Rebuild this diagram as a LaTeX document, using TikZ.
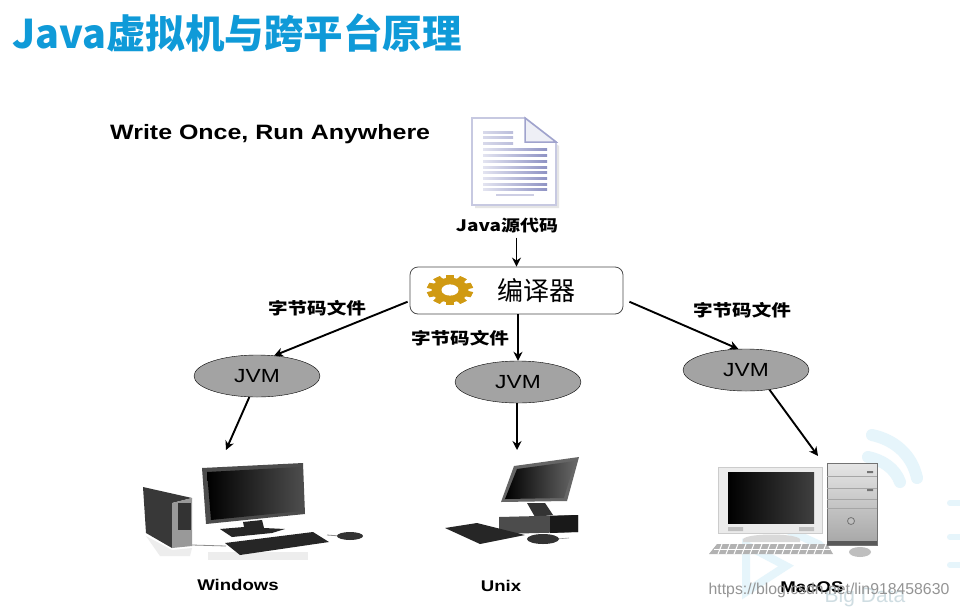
\documentclass[tikz,border=0pt]{standalone}
\usepackage{fontspec}
\usepackage{xcolor}
\setmainfont{Liberation Sans}
\newfontfamily\cjk{Noto Sans CJK SC}
\newfontfamily\cjkwide[FakeStretch=1.2]{Noto Sans CJK SC}
\newfontfamily\widefont[FakeStretch=1.2]{Liberation Sans}
\usetikzlibrary{arrows.meta,shapes.geometric}
\definecolor{titleblue}{HTML}{0F9AD8}
\definecolor{jvmgrey}{HTML}{A3A3A3}
\definecolor{gearyellow}{HTML}{D09A12}
\definecolor{paperblue}{HTML}{8F93C4}
\definecolor{logoblue}{HTML}{E6F5FB}
\tikzset{
    flow/.style={draw=black,line width=1.9pt,-{Stealth[length=9pt,width=9pt]}},
    jvm/.style={draw=black,fill=jvmgrey,ellipse,minimum width=126pt,minimum height=42pt,inner sep=0pt,font=\widefont\fontsize{19}{19}\selectfont},
    caption/.style={inner sep=0pt,font=\widefont\bfseries\fontsize{15.5}{15.5}\selectfont},
    filetag/.style={inner sep=0pt,font=\cjkwide\bfseries\fontsize{16.3}{16.3}\selectfont},
    logo/.style={draw=logoblue,line width=12pt,line cap=round},
}
\begin{document}
\begin{tikzpicture}[x=1pt,y=-1pt]
    \useasboundingbox (0,0) rectangle (960,608);
    \fill[white] (0,0) rectangle (960,608);

    \draw[logo] (872,435) .. controls (895,440) and (912,455) .. (917,478);
    \draw[logo] (868,457) .. controls (882,460) and (895,468) .. (900,482);
    \draw[logo,line width=8pt] (746,545) -- (746,592) -- (786,566) -- cycle;
    \draw[logo,line width=8pt] (770,522) -- (820,545);
    \draw[logo,line width=6pt] (950,503) -- (960,503) (950,537) -- (960,537) (950,565) -- (960,565);
    \node[inner sep=0pt,text=logoblue!90!black,font=\fontsize{21}{21}\selectfont] (bigdata) at (865,597) {Big Data};

    \node[anchor=west,inner sep=0pt,text=titleblue,font=\cjk\bfseries\fontsize{39.5}{39.5}\selectfont] (title) at (12,33) {Java虚拟机与跨平台原理};
    \node[anchor=west,inner sep=0pt,font=\widefont\bfseries\fontsize{20.8}{20.8}\selectfont] (slogan) at (110,134) {Write Once, Run Anywhere};

    \fill[black!10] (475,121) -- (527,121) -- (559,146) -- (559,208) -- (475,208) -- cycle;
    \draw[draw=paperblue!50,fill=white,line width=1.8pt] (472,118) -- (525,118) -- (556,142) -- (556,205) -- (472,205) -- cycle;
    \draw[draw=paperblue!85,fill=paperblue!15,line width=1.5pt] (525,118) -- (525,142) -- (556,142) -- cycle;
    \foreach \y in {132,137,143}
        \shade[left color=paperblue!35,right color=paperblue!60] (483,\y-1) rectangle (513,\y+1);
    \foreach \y in {149,155,161,167,172,178,184,189}
        \shade[left color=paperblue!25,right color=paperblue] (483,\y-1) rectangle (547,\y+1);
    \fill[paperblue!45] (496,194) rectangle (534,196);
    \node[inner sep=0pt,font=\cjkwide\bfseries\fontsize{15.8}{15.8}\selectfont] (src) at (507,226) {Java源代码};

    \node[draw=black!70,fill=white,rounded corners=8pt,line width=0.8pt,minimum width=213pt,minimum height=47pt,inner sep=0pt] (compiler) at (516.5,290.5) {};
    \begin{scope}[shift={(450,290)},yscale=.66]
        \foreach \a in {0,36,...,324}
            \fill[gearyellow,rotate=\a] (-4,-23) rectangle (4,23);
        \fill[gearyellow] (0,0) circle (18.5);
        \fill[white] (0,0) circle (8.5);
    \end{scope}
    \node[inner sep=0pt,font=\cjk\fontsize{26}{26}\selectfont] (compilername) at (536.5,291) {编译器};

    \node[jvm] (jvmwin) at (257,376) {JVM};
    \node[jvm] (jvmunix) at (518,382) {JVM};
    \node[jvm] (jvmmac) at (746,370) {JVM};

    \node[filetag] (tagwin) at (317,308) {字节码文件};
    \node[filetag] (tagunix) at (460,338) {字节码文件};
    \node[filetag] (tagmac) at (742,310) {字节码文件};

    \fill[black!7] (146,536) -- (172,550) -- (192,548) -- (190,556) -- (160,556) -- cycle;
    \fill[black!78] (143,487) -- (192,498) -- (172,503) -- (172,548) -- (146,533) -- cycle;
    \fill[black!40] (172,503) -- (192,498) -- (192,546) -- (172,548) -- cycle;
    \fill[black!80] (178,503) rectangle (191,530);
    \draw[black!45,line width=0.8pt] (192,545) -- (226,546);
    \draw[black!45,line width=0.8pt] (327,535) -- (340,536);
    \fill[black!7] (208,552) rectangle (308,560);
    \fill[black!70] (202,468) -- (303,463) -- (305,514) -- (206,524) -- cycle;
    \shade[left color=black,right color=black!70] (207,472) -- (300,467) -- (302,511) -- (211,520) -- cycle;
    \fill[black!85] (243,522) -- (262,520) -- (264,528) -- (285,529) -- (272,533) -- (232,537) -- (220,529) -- (244,527) -- cycle;
    \fill[black!85] (225,543) -- (313,532) -- (329,542) -- (240,555) -- cycle;
    \fill[black!80] (350,536) ellipse (13 and 4);
    \coordinate (pcwin) at (226,450);
    \node[caption] (win) at (238,585) {Windows};

    \fill[black!60] (514,466) -- (579,457) -- (567,501) -- (501,502) -- cycle;
    \shade[left color=black,right color=black!60] (517,469) -- (575,461) -- (564,498) -- (505,499) -- cycle;
    \fill[black!80] (527,503) -- (545,503) -- (553,515) -- (535,517) -- cycle;
    \fill[black!70] (499,517) -- (578,515) -- (578,532) -- (499,534) -- cycle;
    \fill[black!90] (550,516) -- (578,515) -- (578,532) -- (550,533) -- cycle;
    \fill[black!85] (445,528) -- (477,523) -- (525,535) -- (480,544) -- cycle;
    \draw[black!40,line width=0.6pt] (556,539) -- (569,538);
    \fill[black!80] (543,539) ellipse (16 and 5);
    \coordinate (pcunix) at (517,450);
    \node[caption] (unix) at (501,586) {Unix};

    \fill[black!8] (718,467) rectangle (822,533);
    \draw[black!20,line width=0.5pt] (718,467) rectangle (822,533);
    \shade[left color=black,right color=black!75] (728,472) rectangle (814,523);
    \fill[black!25] (728,527) rectangle (743,531) (799,527) rectangle (814,531);
    \fill[black!15] (743,539) .. controls (748,533) and (795,533) .. (800,539) -- (800,542) -- (743,542) -- cycle;
    \fill[black!30] (717,544) -- (827,544) -- (833,554) -- (709,554) -- cycle;
    \foreach \x in {722,730,...,826} \draw[white,line width=1pt] (\x,544) -- (\x-4,554);
    \draw[white,line width=0.8pt] (714,549) -- (830,549);
    \shade[top color=black!10,bottom color=black!35,draw=black!55,line width=0.6pt] (827,463) rectangle (877,545);
    \foreach \y in {476,488,499,508} \draw[black!35,line width=0.6pt] (827,\y) -- (877,\y);
    \fill[black!55] (867,471) rectangle (873,473) (867,489) rectangle (873,491);
    \draw[black!55,fill=black!25,line width=0.8pt] (851,521) circle (3.5);
    \fill[black!65] (827,541) rectangle (877,545);
    \fill[black!25] (860,552) ellipse (11 and 5);
    \coordinate (pcmac) at (818,456);
    \node[caption] (mac) at (812,587) {MacOS};

    \draw[flow] (src.south -| compiler.north) ++(0,4) -- (compiler.north);
    \draw[flow] ([xshift=-2pt]compiler.186.7) -- (jvmwin.50);
    \draw[flow] (compiler.south) ++(1.5,0) -- (jvmunix.north);
    \draw[flow] ([xshift=6pt]compiler.-6.7) -- (jvmmac.110);
    \draw[flow] (jvmwin.-110) -- (pcwin);
    \draw[flow] (jvmunix.south) ++(-1,0) -- (pcunix);
    \draw[flow] (jvmmac.-40) -- (pcmac);

    \node[inner sep=0pt,text=black!42,font=\fontsize{15.8}{15.8}\selectfont] (mark) at (829,590) {https://blog.csdn.net/lin918458630};
\end{tikzpicture}
\end{document}
